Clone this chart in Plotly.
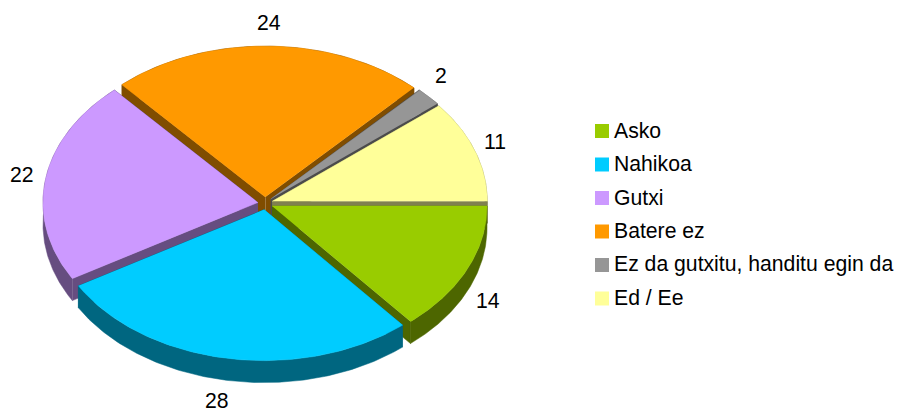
import numpy as np
import plotly.graph_objects as go

categories = ["Asko", "Nahikoa", "Gutxi", "Batere ez", "Ez da gutxitu, handitu egin da", "Ed / Ee"]
values = [14, 28, 22, 24, 2, 11]
top_colors = ["#99CC00", "#00CCFF", "#CC99FF", "#FF9900", "#969696", "#FFFF99"]
side_colors = ["#4D6600", "#006680", "#664D80", "#804D00", "#4B4B4B", "#808050"]

W, H = 899, 412
CX, CY, RX, RY = 265.3, 203.4, 215.0, 151.0
EX, EY, DEPTH = 7.4, 6.3, 22.0
DRAW_ORDER = [3, 4, 5, 2, 0, 1]
LABEL_POS = [(488, 300), (217, 400), (22, 174), (269, 22), (441, 75), (495, 141)]
LEGEND_X, LEGEND_Y0, LEGEND_STEP = 602, 131, 33.5

total = sum(values)
edges = np.concatenate([[0], np.cumsum(values)]) / total * 2 * np.pi

fig = go.Figure()


def poly(xs, ys, color):
    fig.add_trace(go.Scatter(
        x=list(xs), y=list(ys), mode="lines", fill="toself", fillcolor=color,
        line=dict(width=0.5, color=color), hoverinfo="skip", showlegend=False,
    ))


for i in DRAW_ORDER:
    a0, a1 = edges[i], edges[i + 1]
    mid = (a0 + a1) / 2
    ax = CX + EX * np.cos(mid)
    ay = CY + EY * np.sin(mid)
    t = np.linspace(a0, a1, 120)
    rim_x = ax + RX * np.cos(t)
    rim_y = ay + RY * np.sin(t)
    # radial walls
    for ex, ey in ((rim_x[0], rim_y[0]), (rim_x[-1], rim_y[-1])):
        poly([ax, ex, ex, ax], [ay, ey, ey + DEPTH, ay + DEPTH], side_colors[i])
    # outer wall
    poly(np.r_[rim_x, rim_x[::-1]], np.r_[rim_y, rim_y[::-1] + DEPTH], side_colors[i])
    # top face
    poly(np.r_[ax, rim_x], np.r_[ay, rim_y], top_colors[i])

annotations = []
for v, (lx, ly) in zip(values, LABEL_POS):
    annotations.append(dict(x=lx, y=ly, text=str(v), showarrow=False,
                            xanchor="center", yanchor="middle"))

for k, (name, col) in enumerate(zip(categories, top_colors)):
    ly = LEGEND_Y0 + k * LEGEND_STEP
    fig.add_trace(go.Scatter(
        x=[LEGEND_X], y=[ly], mode="markers", name=name,
        marker=dict(symbol="square", size=14, color=col, line=dict(width=0)),
        hoverinfo="name", showlegend=False,
    ))
    annotations.append(dict(x=LEGEND_X + 9.5, y=ly - 1, text=name, showarrow=False,
                            xanchor="left", yanchor="middle"))

fig.update_layout(
    width=W, height=H, autosize=False,
    margin=dict(l=0, r=0, t=0, b=0),
    paper_bgcolor="white", plot_bgcolor="white",
    font=dict(family="Liberation Sans, Arial, sans-serif", size=21.2, color="black"),
    xaxis=dict(range=[0, W], visible=False, fixedrange=True),
    yaxis=dict(range=[H, 0], visible=False, fixedrange=True),
    annotations=annotations,
    showlegend=False,
)
fig.write_html("out.html", config={"displayModeBar": False},
               post_script="document.body.style.margin='0';document.documentElement.style.overflow='hidden';")
